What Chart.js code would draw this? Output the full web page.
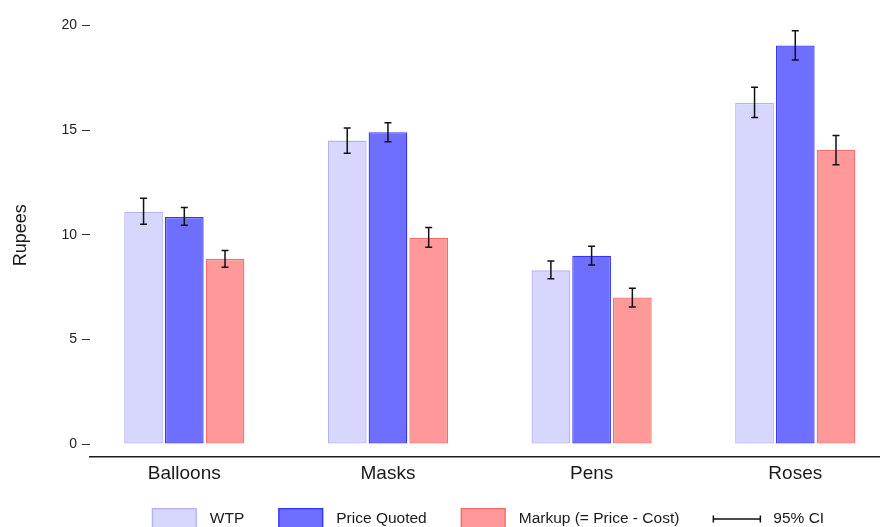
<!DOCTYPE html>
<html>
<head>
<meta charset="utf-8">
<script src="https://cdn.jsdelivr.net/npm/chart.js@4.4.1/dist/chart.umd.min.js"></script>
<style>
  html, body { margin: 0; padding: 0; background: #fff; overflow: hidden; }
</style>
</head>
<body>
<canvas id="chart" width="880" height="527"></canvas>
<script>
// Values
const categories = ["Balloons", "Masks", "Pens", "Roses"];
const yTicks = [0, 5, 10, 15, 20];

const wtp = [11.1, 14.5, 8.3, 16.3];
const wtpLow = [10.5, 13.9, 7.9, 15.6];
const wtpHigh = [11.75, 15.1, 8.75, 17.05];

const price = [10.85, 14.9, 9.0, 19.05];
const priceLow = [10.45, 14.45, 8.55, 18.35];
const priceHigh = [11.3, 15.35, 9.45, 19.75];

const markup = [8.85, 9.85, 7.0, 14.05];
const markupLow = [8.45, 9.4, 6.55, 13.35];
const markupHigh = [9.25, 10.35, 7.45, 14.75];

const FONT = '"Liberation Sans", Arial, sans-serif';

const toPoints = (arr) => arr.map((v, i) => ({ x: i, y: v }));

// Draws the 95% CI whiskers on top of every bar
const errorBars = {
  id: "errorBars",
  afterDatasetsDraw(chart) {
    const ctx = chart.ctx;
    const y = chart.scales.y;
    ctx.save();
    ctx.strokeStyle = "#111";
    ctx.lineWidth = 1.5;
    chart.data.datasets.forEach((ds, di) => {
      chart.getDatasetMeta(di).data.forEach((bar, i) => {
        const top = y.getPixelForValue(ds.ciHigh[i]);
        const bot = y.getPixelForValue(ds.ciLow[i]);
        ctx.beginPath();
        ctx.moveTo(bar.x, top);
        ctx.lineTo(bar.x, bot);
        ctx.moveTo(bar.x - 3.5, top);
        ctx.lineTo(bar.x + 3.5, top);
        ctx.moveTo(bar.x - 3.5, bot);
        ctx.lineTo(bar.x + 3.5, bot);
        ctx.stroke();
      });
    });
    ctx.restore();
  },
};

// Legend row at the bottom, centred under the plot area
const bottomLegend = {
  id: "bottomLegend",
  afterDraw(chart) {
    const ctx = chart.ctx;
    const area = chart.chartArea;
    const boxW = 45, boxH = 22, gap = 13, spacing = 34, lineW = 47;
    const cy = 519;

    ctx.save();
    ctx.font = "15.5px " + FONT;
    ctx.textBaseline = "middle";
    ctx.fillStyle = "#1a1a1a";

    const items = chart.data.datasets.map((ds) => ({
      text: ds.label, fill: ds.backgroundColor, stroke: ds.borderColor, w: boxW,
    }));
    items.push({ text: "95% CI", ci: true, w: lineW });
    items.forEach((it) => (it.total = it.w + gap + ctx.measureText(it.text).width));
    const total = items.reduce((s, it) => s + it.total, 0) + spacing * (items.length - 1);

    let x = (area.left + area.right) / 2 - total / 2 + 3;
    items.forEach((it) => {
      if (it.ci) {
        ctx.strokeStyle = "#111";
        ctx.lineWidth = 1.5;
        ctx.beginPath();
        ctx.moveTo(x, cy);
        ctx.lineTo(x + lineW, cy);
        ctx.moveTo(x, cy - 3.5);
        ctx.lineTo(x, cy + 3.5);
        ctx.moveTo(x + lineW, cy - 3.5);
        ctx.lineTo(x + lineW, cy + 3.5);
        ctx.stroke();
      } else {
        ctx.fillStyle = it.fill;
        ctx.fillRect(x, cy - boxH / 2, boxW, boxH);
        ctx.strokeStyle = it.stroke;
        ctx.lineWidth = 1.3;
        ctx.strokeRect(x + 0.65, cy - boxH / 2 + 0.65, boxW - 1.3, boxH - 1.3);
      }
      ctx.fillStyle = "#1a1a1a";
      ctx.fillText(it.text, x + it.w + gap, cy);
      x += it.total + spacing;
    });
    ctx.restore();
  },
};

new Chart(document.getElementById("chart"), {
  type: "bar",
  data: {
    datasets: [
      {
        label: "WTP",
        data: toPoints(wtp),
        ciLow: wtpLow,
        ciHigh: wtpHigh,
        backgroundColor: "#d7d7fd",
        borderColor: "#b2b2fa",
      },
      {
        label: "Price Quoted",
        data: toPoints(price),
        ciLow: priceLow,
        ciHigh: priceHigh,
        backgroundColor: "#6f6fff",
        borderColor: "#3535fb",
      },
      {
        label: "Markup (= Price - Cost)",
        data: toPoints(markup),
        ciLow: markupLow,
        ciHigh: markupHigh,
        backgroundColor: "#ff9999",
        borderColor: "#fb6a6a",
      },
    ],
  },
  options: {
    responsive: false,
    animation: false,
    datasets: {
      bar: {
        categoryPercentage: 0.6,
        barPercentage: 0.95,
        borderWidth: 1.3,
        borderSkipped: false,
      },
    },
    layout: { padding: { top: 4, right: 0, bottom: 0, left: 0 } },
    plugins: {
      legend: { display: false },
      tooltip: { enabled: false },
    },
    scales: {
      x: {
        type: "linear",
        offset: false,
        min: -0.463,
        max: 3.416,
        afterBuildTicks: (s) => { s.ticks = categories.map((c, i) => ({ value: i })); },
        afterFit: (s) => { s.height = 70; },
        ticks: {
          callback: (v) => categories[v],
          font: { family: FONT, size: 19 },
          color: "#1a1a1a",
          padding: 5,
          autoSkip: false,
          maxRotation: 0,
        },
        grid: { display: false, drawTicks: false, offset: false },
        border: { display: true, color: "#1a1a1a", width: 1.5 },
      },
      y: {
        min: -0.62,
        max: 20.58,
        afterBuildTicks: (s) => { s.ticks = yTicks.map((v) => ({ value: v })); },
        afterFit: (s) => { s.width = 90; },
        ticks: {
          font: { family: FONT, size: 14 },
          color: "#222",
          padding: 5,
        },
        grid: { drawOnChartArea: false, drawTicks: true, tickLength: 8, color: "#333", lineWidth: 1 },
        border: { display: false },
        title: {
          display: true,
          text: "Rupees",
          font: { family: FONT, size: 18 },
          color: "#1a1a1a",
          padding: { top: 10, bottom: 0 },
        },
      },
    },
  },
  plugins: [errorBars, bottomLegend],
});
</script>
</body>
</html>
